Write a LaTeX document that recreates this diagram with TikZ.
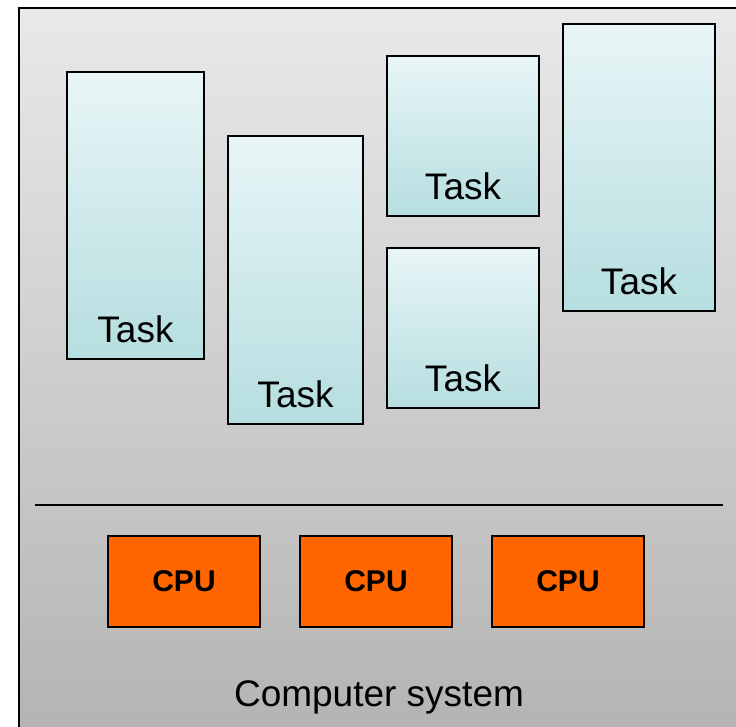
\documentclass[tikz,border=0pt]{standalone}
\usepackage{fontspec}
\setmainfont{Liberation Sans}
\begin{document}
\begin{tikzpicture}[x=1pt,y=-1pt,
  taskbox/.style={draw=black, line width=2pt, top color=taskTop, bottom color=taskBot, inner sep=0pt},
  cpubox/.style={draw=black, line width=2pt, fill=cpuOrange, inner sep=0pt, minimum width=152pt, minimum height=91pt, font=\fontsize{30}{36}\selectfont\bfseries},
  tasklabel/.style={inner sep=0pt, font=\fontsize{37}{44}\selectfont}]
\definecolor{taskTop}{HTML}{E8F5F6}
\definecolor{taskBot}{HTML}{B6DEE0}
\definecolor{cpuOrange}{HTML}{FF6600}
\definecolor{bgTop}{HTML}{E9E9E9}
\definecolor{bgBot}{HTML}{B3B3B3}
\useasboundingbox (0,0) rectangle (736,726);
\clip (0,0) rectangle (736,726);
\shade[top color=bgTop, bottom color=bgBot, draw=black, line width=2pt] (19,8) rectangle (745,740);
% tasks
\node[taskbox, minimum width=137pt, minimum height=287pt] (t1) at (135.5,215.5) {};
\node[taskbox, minimum width=135pt, minimum height=288pt] (t2) at (295.5,280) {};
\node[taskbox, minimum width=152pt, minimum height=160pt] (t3) at (463,136) {};
\node[taskbox, minimum width=152pt, minimum height=160pt] (t4) at (463,328) {};
\node[taskbox, minimum width=152pt, minimum height=287pt] (t5) at (639,167.5) {};
\foreach \t in {t1,t2,t3,t4,t5}{
  \node[tasklabel] (\t lab) at ([yshift=31pt]\t.south) {Task};
}
% separator
\coordinate (sepL) at (35,505);
\coordinate (sepR) at (723,505);
\draw[line width=2pt] (sepL) -- (sepR);
% cpus
\node[cpubox] (c1) at (184,581.5) {CPU};
\node[cpubox] (c2) at (376,581.5) {CPU};
\node[cpubox] (c3) at (568,581.5) {CPU};
\node[tasklabel] (sys) at (379,697) {Computer system};
\end{tikzpicture}
\end{document}
